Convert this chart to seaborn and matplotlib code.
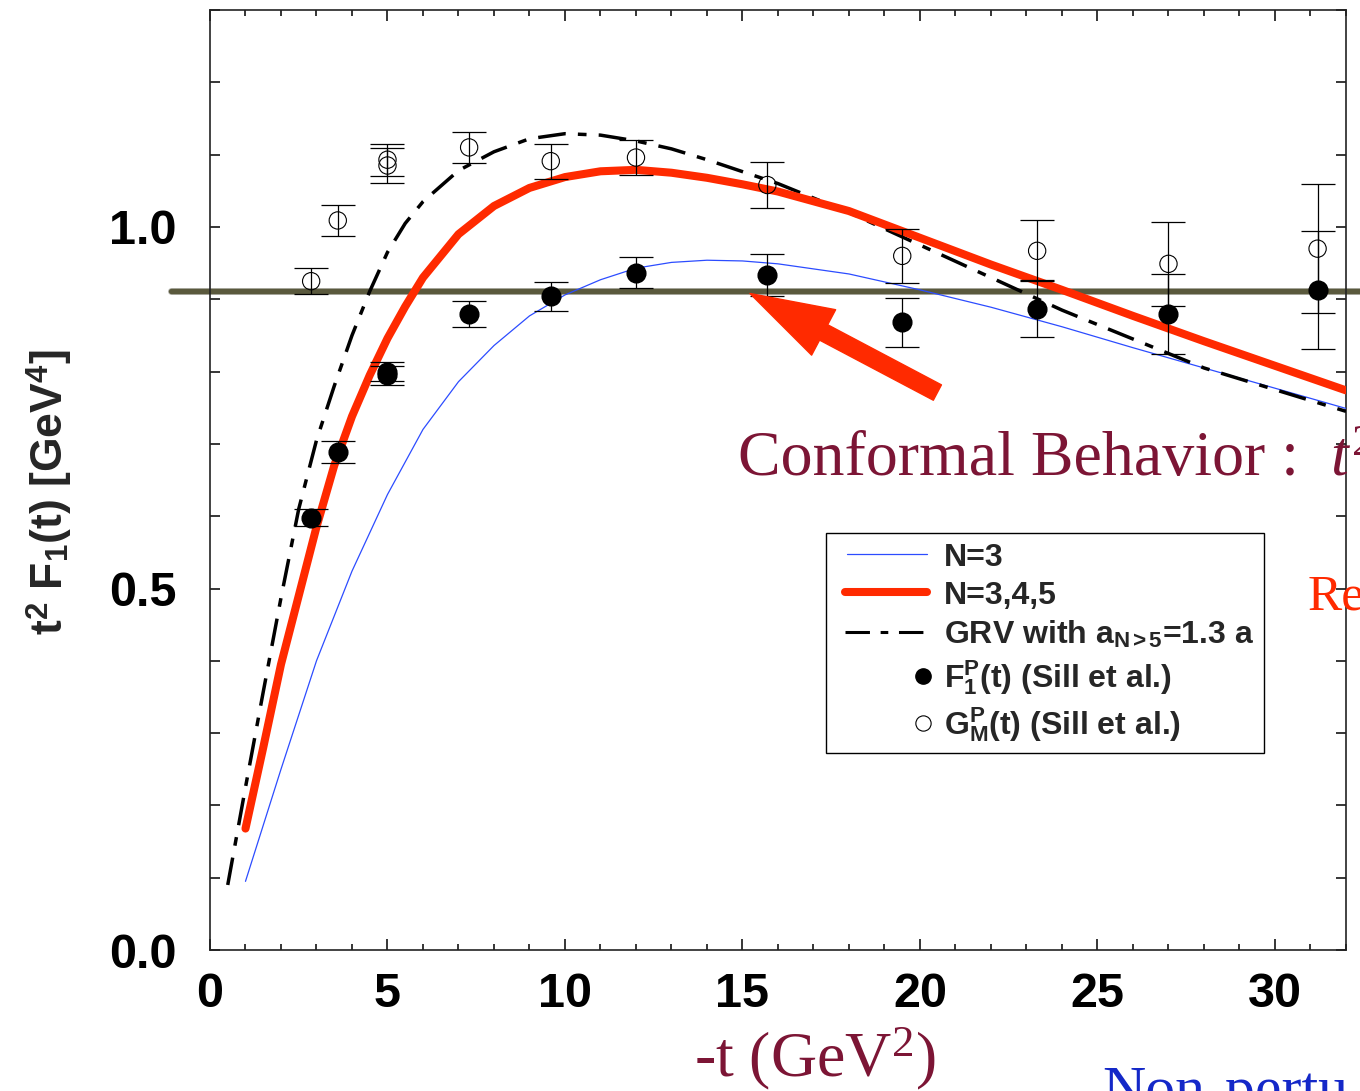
import matplotlib
matplotlib.use('agg')
import matplotlib.pyplot as plt
import seaborn as sns
from matplotlib.lines import Line2D
from matplotlib.legend_handler import HandlerLine2D
from matplotlib.ticker import MultipleLocator

# model curves
t_n3 = [1, 2, 3, 4, 5, 6, 7, 8, 9, 10, 11, 12, 13, 14, 15, 16, 18, 20, 22, 24, 26, 28, 30, 32]
f_n3 = [0.095, 0.25, 0.40, 0.524, 0.63, 0.72, 0.786, 0.836, 0.877, 0.906, 0.927, 0.943,
        0.951, 0.954, 0.953, 0.949, 0.935, 0.913, 0.889, 0.862, 0.833, 0.805, 0.777, 0.749]

t_n345 = [1, 1.5, 2, 2.5, 3, 3.5, 4, 4.5, 5, 5.5, 6, 7, 8, 9, 10, 11, 12, 13, 14, 15, 16,
          18, 20, 22, 24, 26, 28, 30, 32]
f_n345 = [0.168, 0.28, 0.395, 0.49, 0.585, 0.67, 0.738, 0.795, 0.846, 0.89, 0.93, 0.99, 1.029,
          1.054, 1.069, 1.077, 1.079, 1.075, 1.068, 1.059, 1.049, 1.022, 0.985, 0.948, 0.913,
          0.877, 0.842, 0.808, 0.774]

t_grv = [0.5, 1, 1.5, 2, 2.5, 3, 3.5, 4, 4.5, 5, 5.5, 6, 7, 8, 9, 10, 11, 12, 13, 14, 16, 18,
         20, 22, 24, 26, 28, 30, 32]
f_grv = [0.09, 0.225, 0.357, 0.487, 0.61, 0.705, 0.78, 0.85, 0.911, 0.965, 1.005, 1.035, 1.078,
         1.104, 1.122, 1.129, 1.127, 1.119, 1.108, 1.093, 1.06, 1.02, 0.975, 0.93, 0.885,
         0.845, 0.805, 0.775, 0.745]

# Sill et al. data
f1_t = [2.85, 3.6, 5.0, 5.0, 7.3, 9.6, 12.0, 15.7, 19.5, 23.3, 27.0, 31.2]
f1_val = [0.598, 0.689, 0.800, 0.795, 0.880, 0.904, 0.937, 0.934, 0.868, 0.887, 0.880, 0.913]
f1_err = [0.012, 0.015, 0.013, 0.013, 0.018, 0.020, 0.021, 0.029, 0.034, 0.039, 0.055, 0.082]

gm_t = [2.85, 3.6, 5.0, 5.0, 7.3, 9.6, 12.0, 15.7, 19.5, 23.3, 27.0, 31.2]
gm_val = [0.925, 1.009, 1.093, 1.085, 1.110, 1.091, 1.096, 1.058, 0.960, 0.967, 0.949, 0.970]
gm_err = [0.018, 0.022, 0.022, 0.024, 0.022, 0.024, 0.024, 0.032, 0.037, 0.042, 0.058, 0.089]

conformal_level = 0.911
labels = ['N=3', 'N=3,4,5', r'GRV with a$_{\mathbf{N>5}}$=1.3 a',
          r'F$_{\mathbf{1}}^{\mathbf{P}}$(t) (Sill et al.)',
          r'G$_{\mathbf{M}}^{\mathbf{P}}$(t) (Sill et al.)']

sns.set_style('ticks')
plt.rcParams['font.family'] = ['Liberation Sans', 'DejaVu Sans']
plt.rcParams['mathtext.fontset'] = 'custom'
plt.rcParams['mathtext.rm'] = 'Liberation Serif'
plt.rcParams['mathtext.it'] = 'Liberation Serif:italic'
plt.rcParams['mathtext.bf'] = 'Liberation Sans:bold'

BLUE = '#2c4cff'
RED = '#ff2a00'
MAROON = '#7c1535'
OLIVE = '#5a593d'
GRV_DASH = (8, 3.5, 2.5, 3.5)

fig = plt.figure(figsize=(13.6, 10.91), dpi=100)
ax = fig.add_axes([0.1544, 0.1292, 0.8353, 0.8616])

# reference line for the conformal value, runs past the frame like on the slide
ax.plot([-1.1, 32.6], [conformal_level] * 2, color='#b0b0a8', lw=5.0, clip_on=False, zorder=2)
ax.plot([-1.1, 32.6], [conformal_level] * 2, color=OLIVE, lw=3.8, clip_on=False, zorder=2)

sns.lineplot(x=t_n3, y=f_n3, ax=ax, color=BLUE, lw=0.9, estimator=None, sort=False, zorder=3)
sns.lineplot(x=t_grv, y=f_grv, ax=ax, color='black', lw=2.5, estimator=None, sort=False,
             zorder=3).lines[-1].set_dashes(GRV_DASH)
sns.lineplot(x=t_n345, y=f_n345, ax=ax, color=RED, lw=5.8, estimator=None, sort=False,
             solid_capstyle='round', zorder=4)

ax.errorbar(gm_t, gm_val, yerr=gm_err, fmt='none', ecolor='black', elinewidth=0.9,
            capsize=12, capthick=0.9, zorder=5)
ax.errorbar(f1_t, f1_val, yerr=f1_err, fmt='none', ecolor='black', elinewidth=0.9,
            capsize=12, capthick=0.9, zorder=5)
sns.scatterplot(x=gm_t, y=gm_val, ax=ax, s=155, facecolor='none', edgecolor='black',
                linewidth=0.8, zorder=6)
sns.scatterplot(x=f1_t, y=f1_val, ax=ax, s=180, color='black', edgecolor='black', zorder=6)

# arrow pointing at the conformal line
ax.annotate('', xy=(15.21, 0.908), xytext=(20.49, 0.771),
            arrowprops=dict(arrowstyle='simple,head_length=6.0,head_width=3.7,tail_width=1.25',
                            mutation_scale=10, color=RED, shrinkA=0, shrinkB=0), zorder=7)

ax.set_xlim(0, 32)
ax.set_ylim(0, 1.3)
ax.xaxis.set_major_locator(MultipleLocator(5))
ax.xaxis.set_minor_locator(MultipleLocator(1))
ax.yaxis.set_major_locator(MultipleLocator(0.5))
ax.yaxis.set_minor_locator(MultipleLocator(0.1))
ax.tick_params(which='both', direction='in', top=True, right=True, width=1.1, colors='black')
ax.tick_params(axis='x', which='major', length=8, pad=16)
ax.tick_params(axis='x', which='minor', length=4)
ax.tick_params(axis='y', which='both', length=7, pad=24)
for lab in ax.get_xticklabels() + ax.get_yticklabels():
    lab.set_fontsize(35)
    lab.set_fontweight('bold')
for sp in ax.spines.values():
    sp.set_linewidth(1.2)
    sp.set_color('#222222')
    sp.set_visible(True)

ax.set_ylabel(r't$^{\mathbf{2}}$ F$_{\mathbf{1}}$(t) [GeV$^{\mathbf{4}}$]', fontsize=32,
              fontweight='bold')
ax.yaxis.set_label_coords(-0.12, 0.487)
ax.set_xlabel(r'-t (GeV$^{\mathrm{2}}$)', fontsize=46, family='Liberation Serif',
              color=MAROON, va='baseline')
ax.xaxis.set_label_coords(0.532, -0.135)


class SlotHandler(HandlerLine2D):
    '''line handle starting a bit in from the left, marker sitting at the given fraction'''

    def __init__(self, start=0.1, mark_at=None, **kw):
        super().__init__(numpoints=1, **kw)
        self.start = start
        self.mark_at = mark_at

    def get_xdata(self, legend, xdescent, ydescent, width, height, fontsize):
        if self.mark_at is not None:
            x = [-xdescent + width * (self.mark_at - 0.02), -xdescent + width * (self.mark_at + 0.02)]
        else:
            x = [-xdescent + width * self.start, -xdescent + width]
        return x, x


handles = [
    Line2D([], [], color=BLUE, lw=0.9),
    Line2D([], [], color=RED, lw=5.8, solid_capstyle='round'),
    Line2D([], [], color='black', lw=2.2, dashes=GRV_DASH),
    Line2D([], [], ls='none', marker='o', ms=11, color='black'),
    Line2D([], [], ls='none', marker='o', ms=11, mfc='none', mec='black', mew=0.8),
]
hmap = {handles[0]: SlotHandler(0.12), handles[1]: SlotHandler(0.1), handles[2]: SlotHandler(0.1),
        handles[3]: SlotHandler(mark_at=0.96), handles[4]: SlotHandler(mark_at=0.96)}
leg = ax.legend(handles, labels, loc='upper left', bbox_to_anchor=(826 / 1360, 1 - 533 / 1091),
                bbox_transform=fig.transFigure, borderaxespad=0, fancybox=False,
                framealpha=1, edgecolor='black', prop={'size': 23, 'weight': 'bold'},
                handlelength=2.85, handletextpad=0.55, borderpad=0.3, labelspacing=0.25,
                handler_map=hmap)
leg.get_frame().set_linewidth(1.0)
leg.set_zorder(8)

# slide text around the plot
fig.text(738 / 1360, 1 - 475 / 1091, 'Conformal Behavior :', fontsize=46,
         family='Liberation Serif', color=MAROON, va='baseline')
fig.text(1330 / 1360, 1 - 475 / 1091, r'$t^{\mathrm{2}}$', fontsize=46, color=MAROON,
         va='baseline')
fig.text(1308 / 1360, 1 - 610 / 1091, 'Re', fontsize=37, family='Liberation Serif',
         color=RED, va='baseline')
fig.text(1102 / 1360, 1 - 1107 / 1091, 'Non-pertu', fontsize=43, family='Liberation Serif',
         color='#1428c8', va='baseline')

plt.savefig('out.png', dpi=100)
